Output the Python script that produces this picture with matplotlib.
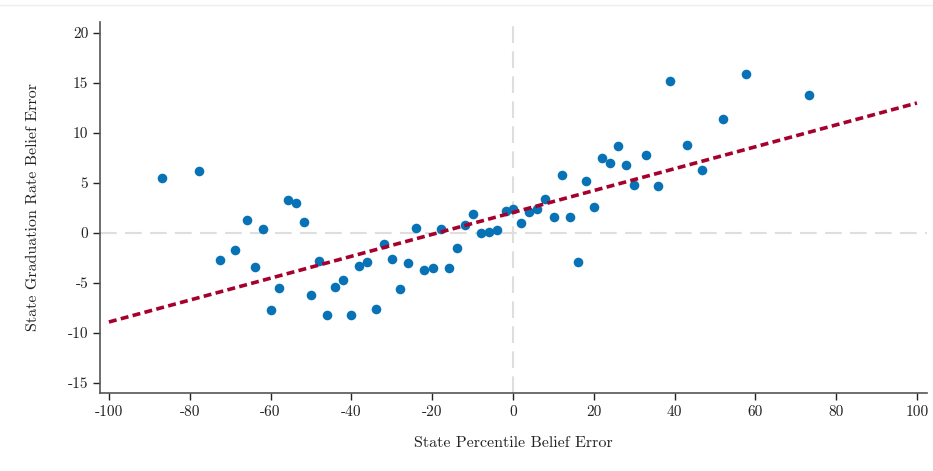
import numpy as np
import matplotlib.pyplot as plt
from matplotlib.lines import Line2D

# state belief errors: percentile (x) vs graduation rate (y)
pct_err = [-86.9, -77.7, -72.6, -68.8, -65.8, -63.9, -61.9, -59.9, -57.9, -55.7,
           -53.8, -51.8, -49.9, -47.9, -46.0, -44.1, -42.1, -40.1, -38.1, -36.0,
           -34.0, -32.0, -29.9, -28.0, -26.0, -23.9, -21.9, -19.9, -17.9, -15.9,
           -13.9, -11.9, -9.9, -7.9, -5.9, -3.9, -1.8, 0.1, 2.0, 4.0,
           6.0, 8.0, 10.1, 12.1, 14.1, 16.0, 18.1, 20.0, 22.0, 24.0,
           26.0, 28.0, 30.0, 32.9, 36.0, 38.9, 43.0, 46.8, 52.0, 57.7, 73.3]
grad_err = [5.5, 6.2, -2.7, -1.7, 1.3, -3.4, 0.4, -7.7, -5.5, 3.3,
            3.0, 1.1, -6.2, -2.8, -8.2, -5.4, -4.7, -8.2, -3.3, -2.9,
            -7.6, -1.1, -2.6, -5.6, -3.0, 0.5, -3.7, -3.5, 0.4, -3.5,
            -1.5, 0.8, 1.9, 0.0, 0.1, 0.3, 2.2, 2.4, 1.0, 2.1,
            2.4, 3.4, 1.6, 5.8, 1.6, -2.9, 5.2, 2.6, 7.5, 7.0,
            8.7, 6.8, 4.8, 7.8, 4.7, 15.2, 8.8, 6.3, 11.4, 15.9, 13.8]

# fitted line endpoints
fit_x = [-100, 100]
fit_y = [-8.9, 13.0]

x_ticks = list(range(-100, 101, 20))
y_ticks = list(range(-15, 21, 5))

plt.rcParams['font.family'] = 'cmr10'
plt.rcParams['mathtext.fontset'] = 'cm'
plt.rcParams['axes.unicode_minus'] = False
plt.rcParams['axes.formatter.use_mathtext'] = False

fig = plt.figure(figsize=(9.33, 4.71), dpi=100)
ax = fig.add_axes([0.1072, 0.1656, 0.8864, 0.7877])

ax.axhline(0, color='#dedede', lw=1.5, dashes=(8, 4), zorder=1)
ax.axvline(0, color='#dedede', lw=1.5, dashes=(8, 4), zorder=1)

ax.scatter(pct_err, grad_err, s=48, color='#0773b6', linewidths=0, zorder=3)
ax.plot(fit_x, fit_y, color='#a6002c', lw=2.6, dashes=(2.2, 1.2), zorder=4)

ax.set_xlim(-102.2, 102.5)
ax.set_ylim(-16, 21.1)
ax.set_xticks(x_ticks)
ax.set_yticks(y_ticks)

for side in ['top', 'right']:
    ax.spines[side].set_visible(False)
for side in ['left', 'bottom']:
    ax.spines[side].set_color('#555555')
    ax.spines[side].set_linewidth(1.2)
ax.tick_params(colors='#222222', labelsize=11, length=5, width=1, direction='out')
ax.tick_params(axis='x', pad=4)

ax.set_xlabel('State Percentile Belief Error', fontsize=11.5, labelpad=12, color='#222222')
ax.set_ylabel('State Graduation Rate Belief Error', fontsize=11.5, labelpad=20, color='#222222')

fig.add_artist(Line2D([0, 1], [0.989, 0.989], color='#eeeeee', lw=1))

fig.savefig('out.png', dpi=100)
